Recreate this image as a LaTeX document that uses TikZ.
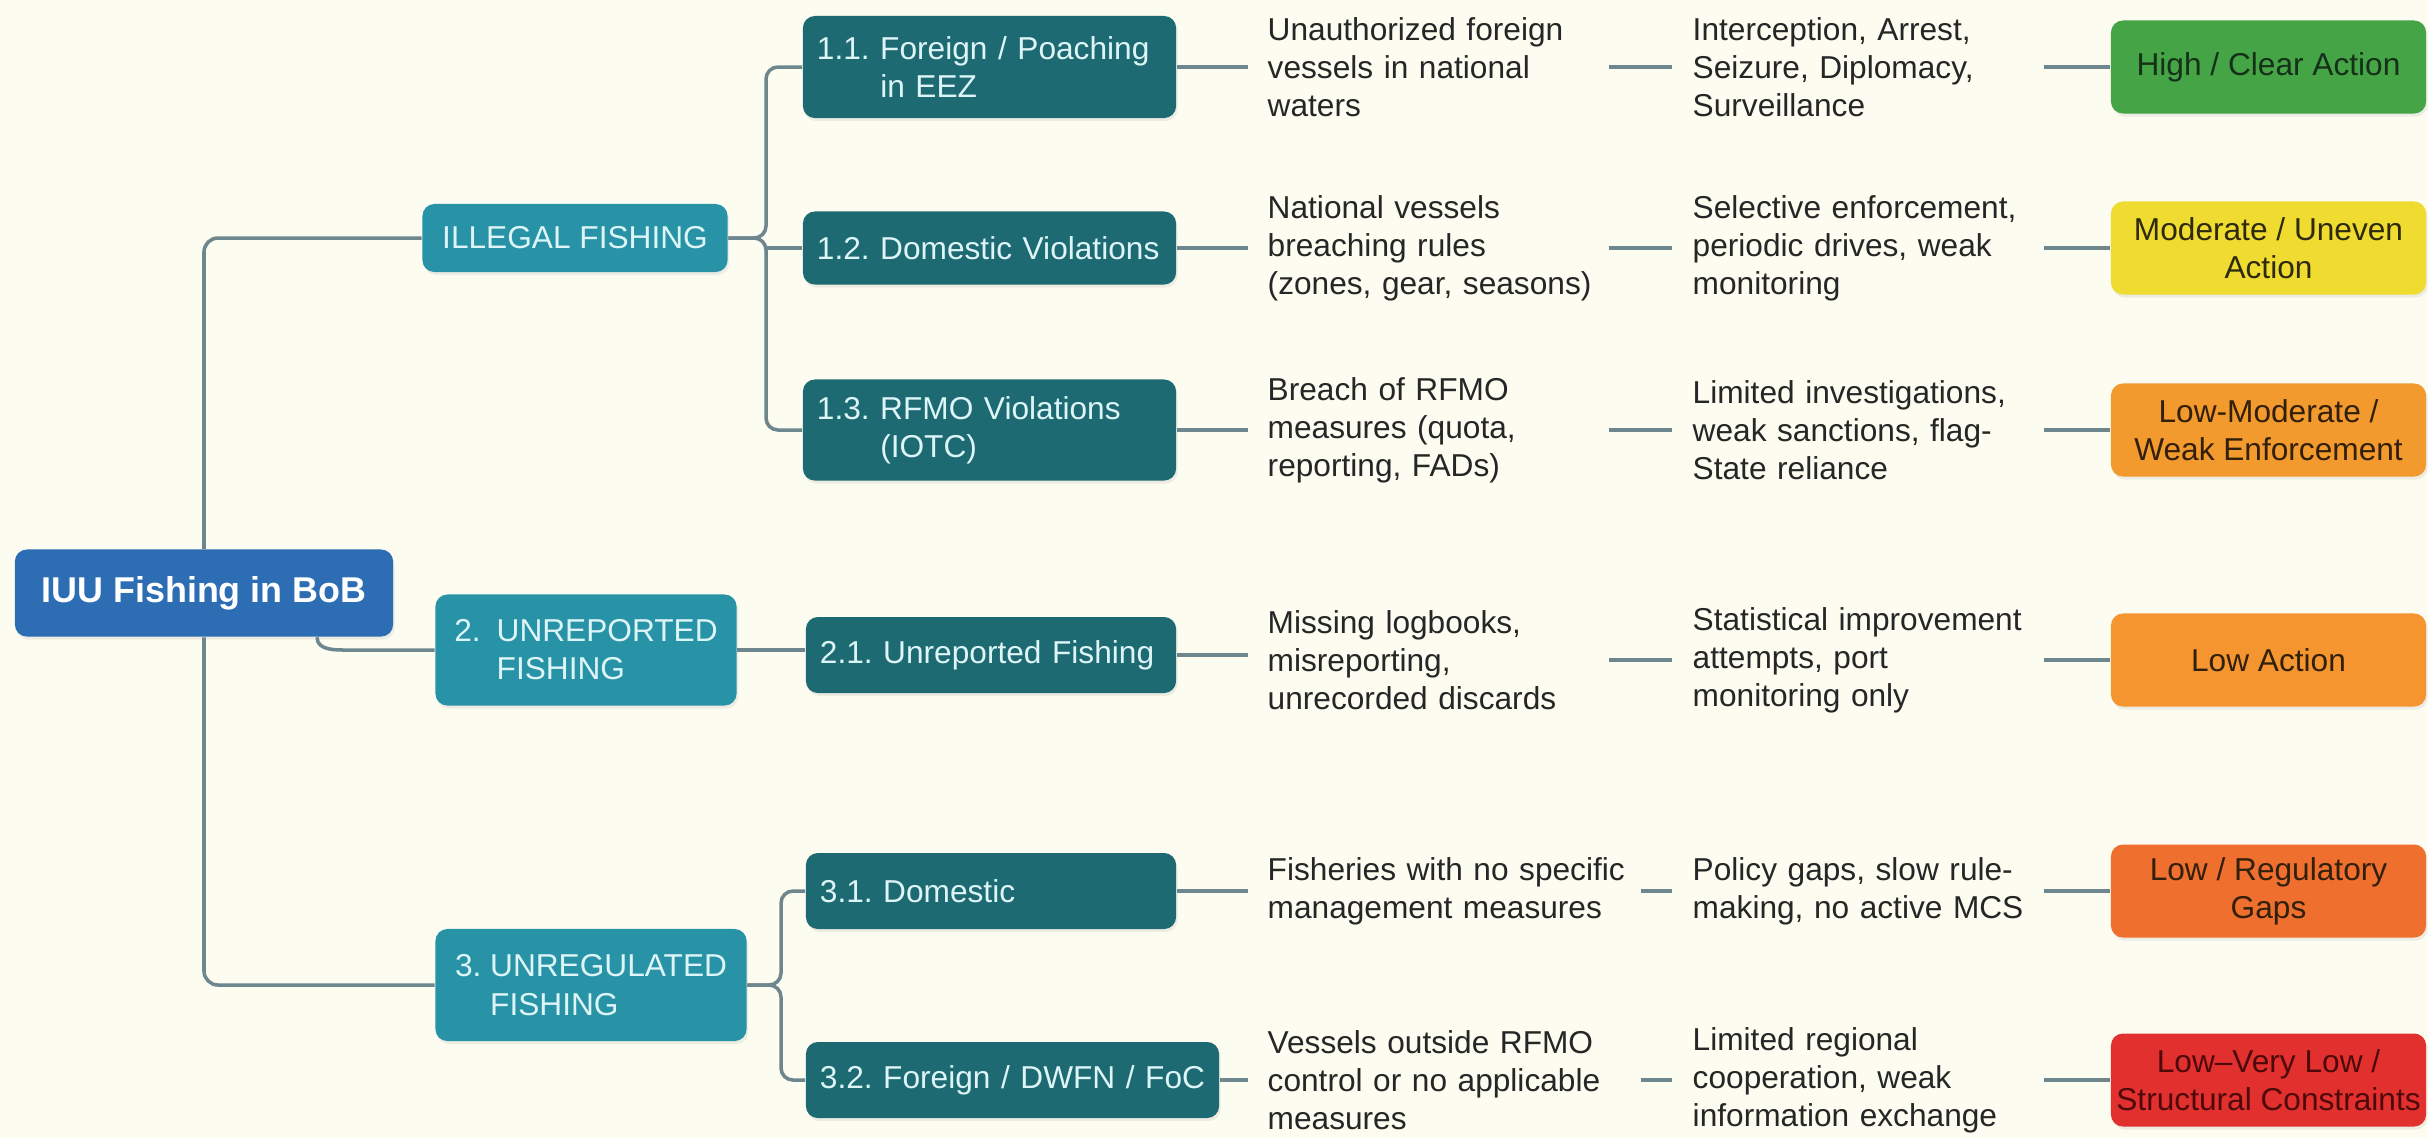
\documentclass[tikz,border=0pt]{standalone}
\usepackage{fontspec}
\setmainfont{Liberation Sans}
\usetikzlibrary{shadows}
\setlength{\parindent}{0pt}
\frenchspacing
\hyphenpenalty=10000
\exhyphenpenalty=10000
\definecolor{bgc}{HTML}{FCFCF1}
\definecolor{rootc}{HTML}{2C6DB4}
\definecolor{tealc}{HTML}{2893A7}
\definecolor{darktc}{HTML}{1E6A72}
\definecolor{lightc}{HTML}{DDF5F7}
\definecolor{connc}{HTML}{6E878E}
\definecolor{txtc}{HTML}{262626}
\definecolor{greenc}{HTML}{45A446}
\definecolor{yellowc}{HTML}{F0DB31}
\definecolor{orangec}{HTML}{F29A2D}
\definecolor{orangeb}{HTML}{F4952F}
\definecolor{orangered}{HTML}{EE6F2E}
\definecolor{redc}{HTML}{E2302E}
\definecolor{greentxt}{HTML}{16301A}
\definecolor{yellowtxt}{HTML}{2E2A0E}
\definecolor{orangetxt}{HTML}{33200C}
\definecolor{redtxt}{HTML}{4E0A0A}
\newcommand{\myfs}{\fontsize{9}{10.85}\selectfont}
\begin{document}
\begin{tikzpicture}[x=0.01cm,y=-0.01cm,font=\myfs,
  conn/.style={draw=connc, line width=1pt},
  softshadow/.style={drop shadow={opacity=0.12, shadow xshift=0.015cm, shadow yshift=-0.03cm}},
  rootbox/.style={fill=rootc, softshadow, rounded corners=0.12cm, text=white, font=\bfseries\fontsize{10.2}{12}\selectfont, minimum width=3.78cm, minimum height=0.87cm, inner sep=0},
  lone/.style={fill=tealc, softshadow, rounded corners=0.12cm, text=lightc, align=left, inner sep=0},
  ltwo/.style={fill=darktc, softshadow, rounded corners=0.12cm, text=lightc, align=left, text width=#1, inner xsep=0.14cm, inner ysep=0},
  desc/.style={anchor=west, text width=#1, align=left, inner sep=0, text=txtc},
  rate/.style={fill=#1, softshadow, rounded corners=0.12cm, minimum width=3.15cm, minimum height=0.93cm, align=center, inner sep=0}
]
\fill[bgc] (0,0) rectangle (2428,1138);
\useasboundingbox (0,0) rectangle (2428,1138);

% root and level one
\node[rootbox] (root) at (204,593) {IUU Fishing in BoB};
\node[lone, minimum width=3.05cm, minimum height=0.68cm] (ill) at (575,238) {ILLEGAL FISHING};
\node[lone, minimum width=3.01cm, minimum height=1.11cm] (unrep) at (586,650) {2.\hspace{0.16cm}UNREPORTED\\\phantom{2.\hspace{0.16cm}}FISHING};
\node[lone, minimum width=3.11cm, minimum height=1.12cm] (unreg) at (591,985) {3. UNREGULATED\\\phantom{3. }FISHING};

% level two
\node[ltwo=3.45cm, minimum height=1.02cm] (t11) at (989.5,67) {1.1. Foreign / Poaching\\\phantom{1.1. }in EEZ};
\node[ltwo=3.45cm, minimum height=0.73cm] (t12) at (989.5,248) {1.2. Domestic Violations};
\node[ltwo=3.45cm, minimum height=1.01cm] (t13) at (989.5,430) {1.3. RFMO Violations\\\phantom{1.3. }(IOTC)};
\node[ltwo=3.42cm, minimum height=0.76cm] (t21) at (991,655) {2.1. Unreported Fishing};
\node[ltwo=3.42cm, minimum height=0.76cm] (t31) at (991,891) {3.1. Domestic};
\node[ltwo=3.85cm, minimum height=0.76cm] (t32) at (1012.5,1080) {3.2. Foreign / DWFN / FoC};

% descriptions
\node[desc=3.3cm] (d11) at (1267,67) {Unauthorized foreign\\vessels in national\\waters};
\node[desc=3.3cm] (d12) at (1267,248) {National vessels\\breaching rules\\(zones, gear, seasons)};
\node[desc=3.3cm] (d13) at (1267,430) {Breach of RFMO\\measures (quota,\\reporting, FADs)};
\node[desc=3.3cm] (d21) at (1267,660) {Missing logbooks,\\misreporting,\\unrecorded discards};
\node[desc=3.62cm] (d31) at (1267,891) {Fisheries with no specific\\management measures};
\node[desc=3.62cm] (d32) at (1267,1080) {Vessels outside RFMO\\control or no applicable\\measures};

% responses
\node[desc=3.4cm] (r11) at (1692,67) {Interception, Arrest,\\Seizure, Diplomacy,\\Surveillance};
\node[desc=3.4cm] (r12) at (1692,248) {Selective enforcement,\\periodic drives, weak\\monitoring};
\node[desc=3.4cm] (r13) at (1692,430) {Limited investigations,\\weak sanctions, flag-\\State reliance};
\node[desc=3.4cm] (r21) at (1692,660) {Statistical improvement\\attempts, port\\monitoring only};
\node[desc=3.4cm] (r31) at (1692,891) {Policy gaps, slow rule-\\making, no active MCS};
\node[desc=3.4cm] (r32) at (1692,1080) {Limited regional\\cooperation, weak\\information exchange};

% ratings
\node[rate=greenc, text=greentxt] (k11) at (2268.5,67) {High / Clear Action};
\node[rate=yellowc, text=yellowtxt] (k12) at (2268.5,248) {Moderate / Uneven\\Action};
\node[rate=orangec, text=orangetxt] (k13) at (2268.5,430) {Low-Moderate /\\Weak Enforcement};
\node[rate=orangeb, text=orangetxt] (k21) at (2268.5,660) {Low Action};
\node[rate=orangered, text=orangetxt] (k31) at (2268.5,891) {Low / Regulatory\\Gaps};
\node[rate=redc, text=redtxt] (k32) at (2268.5,1080) {Low--Very Low /\\Structural Constraints};

% trunk
\draw[conn, rounded corners=0.14cm] (root.north) |- (ill.west);
\draw[conn, rounded corners=0.14cm] (root.south) |- (unreg.west);
\draw[conn] ([xshift=1.13cm]root.south) to[out=-90,in=180] ([xshift=1.45cm]root.south |- unrep.west) -- (unrep.west);

% brace illegal
\coordinate (b1) at (766,238);
\draw[conn, rounded corners=0.12cm] (ill.east) -- (b1) |- (t11.west);
\draw[conn, rounded corners=0.12cm] (ill.east) -- (b1) |- (t13.west);
\draw[conn] (b1 |- t12.west) -- (t12.west);
% unreported
\draw[conn] (unrep.east) -- (unrep.east -| t21.west);
% brace unregulated
\coordinate (b3) at (781,985);
\draw[conn, rounded corners=0.12cm] (unreg.east) -- (b3) |- (t31.west);
\draw[conn, rounded corners=0.12cm] (unreg.east) -- (b3) |- (t32.west);

% row connectors
\foreach \r in {11,12,13,21,31,32}{
  \draw[conn, shorten >=0.19cm] (t\r.east) -- (t\r.east -| d\r.west);
  \draw[conn, shorten <=0.1cm, shorten >=0.2cm] (d\r.east) -- (d\r.east -| r\r.west);
  \draw[conn, shorten <=0.1cm] (r\r.east) -- (r\r.east -| k\r.west);
}
\end{tikzpicture}
\end{document}
